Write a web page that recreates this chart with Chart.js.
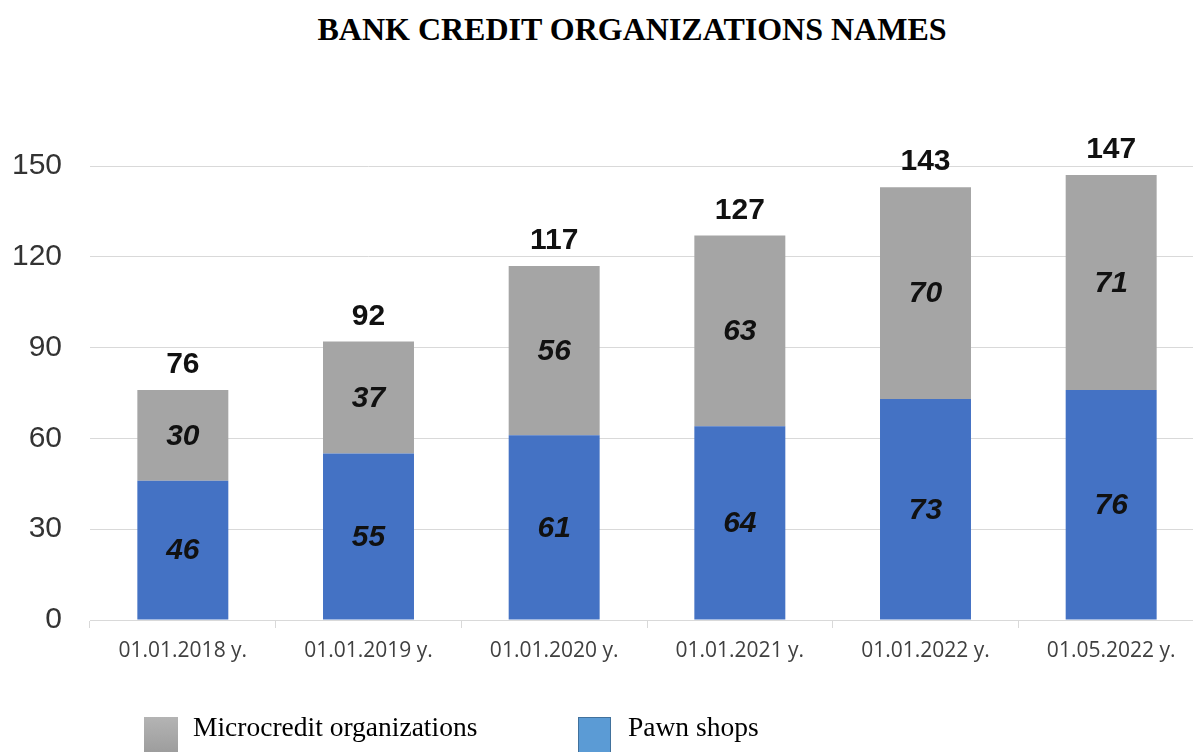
<!DOCTYPE html>
<html>
<head>
<meta charset="utf-8">
<script src="https://cdn.jsdelivr.net/npm/chart.js@4.4.0/dist/chart.umd.min.js"></script>
<style>
  html, body { margin: 0; padding: 0; background: #fff; overflow: hidden; }
  body { width: 1193px; height: 752px; position: relative; }
  #title {
    position: absolute; left: 0; top: 11px; width: 1264px; text-align: center;
    font: bold 32px 'Liberation Serif', 'Times New Roman', serif; color: #000;
  }
  #wrap { position: absolute; left: 0; top: 0; width: 1204px; height: 752px; }
  .leg { position: absolute; top: 711px; font: 27.5px 'Liberation Serif', 'Times New Roman', serif; color: #000; }
  .sw { position: absolute; top: 717px; width: 34px; height: 40px; }
</style>
</head>
<body>
<div id="title">BANK CREDIT ORGANIZATIONS NAMES</div>
<div id="wrap"><canvas id="chart"></canvas></div>
<div class="sw" style="left:144px;background:linear-gradient(#b4b4b4,#9a9a9a);"></div>
<div class="leg" style="left:193px;">Microcredit organizations</div>
<div class="sw" style="left:578px;width:33px;background:#5b9bd5;border:1px solid #41719c;box-sizing:border-box;"></div>
<div class="leg" style="left:628px;">Pawn shops</div>
<script>
'use strict';
const dates = ['01.01.2018 y.', '01.01.2019 y.', '01.01.2020 y.', '01.01.2021 y.', '01.01.2022 y.', '01.05.2022 y.'];
const pawnShops = [46, 55, 61, 64, 73, 76];
const microcredit = [30, 37, 56, 63, 70, 71];
const yTicks = [0, 30, 60, 90, 120, 150];

const totals = dates.map((d, i) => pawnShops[i] + microcredit[i]);

const labelPlugin = {
  id: 'barLabels',
  afterDatasetsDraw(chart) {
    const ctx = chart.ctx;
    ctx.save();
    ctx.fillStyle = '#111';
    ctx.textAlign = 'center';
    ctx.textBaseline = 'middle';
    ctx.font = 'italic bold 30px "Liberation Sans", Arial, sans-serif';
    chart.data.datasets.forEach((ds, di) => {
      chart.getDatasetMeta(di).data.forEach((bar, i) => {
        ctx.fillText(ds.data[i], bar.x, (bar.y + bar.base) / 2 + 1);
      });
    });
    ctx.font = 'bold 30px "Liberation Sans", Arial, sans-serif';
    const meta = chart.getDatasetMeta(1);
    meta.data.forEach((bar, i) => {
      ctx.fillText(totals[i], bar.x, chart.scales.y.getPixelForValue(totals[i]) - 25);
    });
    ctx.restore();
  }
};

const ctx = document.getElementById('chart').getContext('2d');
const chart = new Chart(ctx, {
  type: 'bar',
  data: {
    labels: dates,
    datasets: [
      {
        label: 'Pawn shops',
        data: pawnShops,
        backgroundColor: '#4472c4',
        barPercentage: 0.98,
        categoryPercentage: 0.5,
      },
      {
        label: 'Microcredit organizations',
        data: microcredit,
        backgroundColor: '#a5a5a5',
        barPercentage: 0.98,
        categoryPercentage: 0.5,
      },
    ],
  },
  options: {
    responsive: true,
    maintainAspectRatio: false,
    animation: false,
    layout: { padding: { top: 166, left: 0, right: 0, bottom: 0 } },
    plugins: {
      legend: { display: false },
      tooltip: { enabled: false },
    },
    scales: {
      x: {
        stacked: true,
        afterFit(scale) { scale.height = 132; },
        grid: { display: true, drawOnChartArea: false, drawTicks: true, tickLength: 8, color: '#d9d9d9' },
        border: { display: true, color: '#d9d9d9', width: 1 },
        ticks: {
          color: '#404040',
          padding: 10,
          maxRotation: 0,
          font: { family: "'Open Sans', sans-serif", size: 21 },
        },
      },
      y: {
        stacked: true,
        min: 0,
        max: 150,
        afterFit(scale) { scale.width = 90; },
        afterBuildTicks(scale) { scale.ticks = yTicks.map(v => ({ value: v })); },
        grid: { color: '#d9d9d9', drawTicks: false },
        border: { display: false },
        ticks: {
          color: '#333',
          padding: 28,
          font: { family: "'Liberation Sans', Arial, sans-serif", size: 30 },
        },
      },
    },
  },
  plugins: [labelPlugin],
});
</script>
</body>
</html>
